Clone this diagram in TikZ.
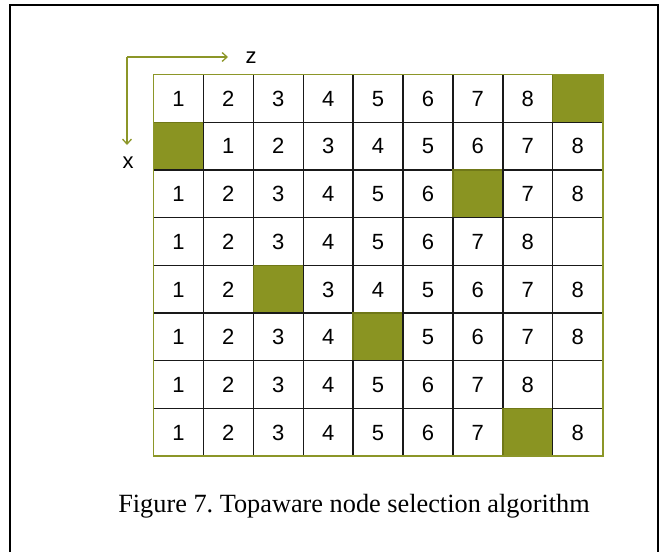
\documentclass[tikz,border=0pt]{standalone}
\usepackage{fontspec}
\setmainfont{Liberation Serif}
\newfontfamily\cellfont{Liberation Sans}
\usetikzlibrary{arrows.meta}
\definecolor{olivefill}{RGB}{138,148,34}
\definecolor{oliveedge}{RGB}{112,120,24}
\definecolor{oliveline}{RGB}{140,150,40}
\definecolor{gridline}{RGB}{25,25,25}
\tikzset{
  x=1pt, y=-1pt,
  cell/.style={draw=gridline, line width=1.4pt, minimum width=49.9pt, minimum height=47.7pt,
    inner sep=0pt, outer sep=0pt, text height=15.8pt, text depth=0pt,
    font=\cellfont\fontsize{22}{22}\selectfont},
  marked/.style={cell, fill=olivefill, draw=oliveedge},
  axisarrow/.style={draw=oliveline, line width=1.3pt, -{Straight Barb[length=5pt,width=9pt,line width=1.3pt]}},
  axislabel/.style={font=\cellfont\fontsize{22}{22}\selectfont, inner sep=0pt}
}
\def\markF{F}
\def\markE{-}
\begin{document}
\frenchspacing
\begin{tikzpicture}
\useasboundingbox (0,0) rectangle (661,552);
% outer frame, open at the bottom
\draw[line width=1.5pt, black] (10,552) -- (10,5) -- (658,5) -- (658,552);

% grid: each row lists its entries; "F" is a shaded cell, "-" an empty one
\def\gx{153.5}\def\gy{74.5}\def\cw{49.9}\def\ch{47.7}
\foreach \row [count=\r] in {
  {1,2,3,4,5,6,7,8,F},
  {F,1,2,3,4,5,6,7,8},
  {1,2,3,4,5,6,F,7,8},
  {1,2,3,4,5,6,7,8,-},
  {1,2,F,3,4,5,6,7,8},
  {1,2,3,4,F,5,6,7,8},
  {1,2,3,4,5,6,7,8,-},
  {1,2,3,4,5,6,7,F,8}}{
  \foreach \v [count=\c] in \row {
    \pgfmathsetmacro{\px}{\gx+(\c-0.5)*\cw}
    \pgfmathsetmacro{\py}{\gy+(\r-0.5)*\ch}
    \ifx\v\markF
      \node[marked] (c-\r-\c) at (\px,\py) {};
    \else\ifx\v\markE
      \node[cell] (c-\r-\c) at (\px,\py) {};
    \else
      \node[cell] (c-\r-\c) at (\px,\py) {\v};
    \fi\fi
  }
}
% olive border round the whole grid
\draw[oliveline, line width=1.8pt] (c-1-1.north west) rectangle (c-8-9.south east);

% axes
\coordinate (o) at (127,57);
\coordinate (zend) at (228,57);
\coordinate (xend) at (127,145);
\draw[axisarrow] (o) -- (zend);
\draw[axisarrow] (o) -- (xend);
\node[axislabel] (zl) at (251,57.5) {z};
\node[axislabel] (xl) at (128,162.5) {x};

% caption
\node[anchor=base, inner sep=0pt, font=\fontsize{26.3}{26.3}\selectfont] (cap) at (354,512.7)
  {Figure 7. Topaware node selection algorithm};
\end{tikzpicture}
\end{document}
